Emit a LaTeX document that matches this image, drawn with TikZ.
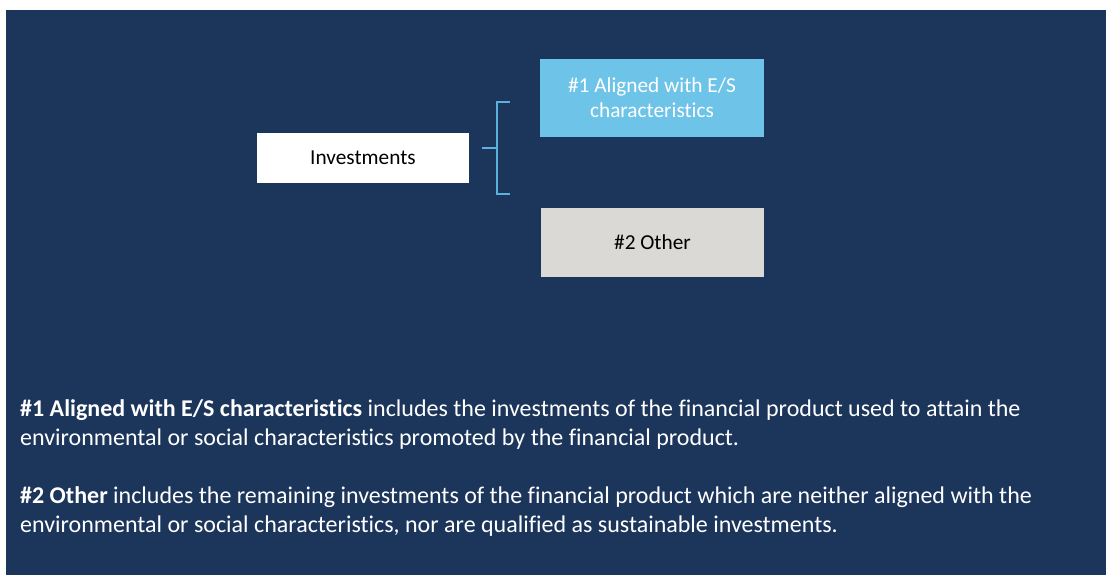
\documentclass[tikz,border=0pt]{standalone}
\usepackage{fontspec}
\setmainfont{Carlito}[Ligatures=NoCommon]
\definecolor{navy}{RGB}{28,53,91}
\definecolor{skyb}{RGB}{110,196,232}
\definecolor{greyb}{RGB}{219,217,214}
\definecolor{brk}{RGB}{91,176,221}
\begin{document}
\begin{tikzpicture}[x=1pt,y=-1pt,
  boxs/.style={rectangle,inner sep=0pt,align=center,font=\fontsize{21.3}{25}\selectfont},
  bodytext/.style={anchor=base west,inner sep=0pt,align=left,text=white,font=\fontsize{24}{28.5}\selectfont},
  brline/.style={draw=brk,line width=1.5pt}]
\useasboundingbox (0,0) rectangle (1106,575);
\fill[white] (0,0) rectangle (1106,575);
\fill[navy] (6,10) rectangle (1106,575);
% boxes
\node[boxs,fill=white,minimum width=212pt,minimum height=50pt] (inv) at (363,158) {\raisebox{-2pt}{Investments}};
\node[boxs,fill=skyb,text=white,minimum width=224pt,minimum height=78pt] (al) at (652,98) {\#1 Aligned with E/S\\characteristics};
\node[boxs,fill=greyb,minimum width=223pt,minimum height=69pt] (oth) at (652.5,242.5) {\raisebox{-2pt}{\#2 Other}};
% bracket
\coordinate (stub) at (482,148);
\coordinate (mid) at (497,148);
\coordinate (t0) at (497,102);
\coordinate (t1) at (510,102);
\coordinate (b0) at (497,194);
\coordinate (b1) at (510,194);
\draw[brline] (stub) -- (mid);
\draw[brline] (t1) -- (t0) -- (b0) -- (b1);
% texts
\node[bodytext] (p1) at (20,445) {\textbf{\#1 Aligned with E/S characteristics} includes the investments of the financial product used to attain the\\environmental or social characteristics promoted by the financial product.};
\node[bodytext] (p2) at (20,532) {\textbf{\#2 Other} includes the remaining investments of the financial product which are neither aligned with the\\environmental or social characteristics, nor are qualified as sustainable investments.};
\end{tikzpicture}
\end{document}
